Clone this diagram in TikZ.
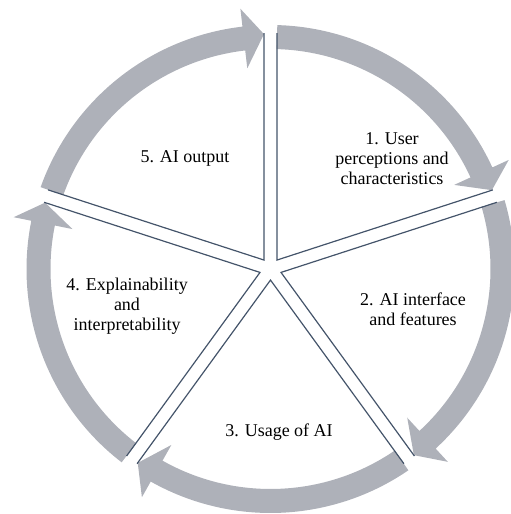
\documentclass[tikz,border=0pt]{standalone}
\usepackage{fontspec}
\setmainfont{LiberationSerif}[Extension=.ttf, UprightFont=*-Regular, BoldFont=*-Bold]
\usetikzlibrary{calc}

\definecolor{ringgray}{RGB}{174,177,185}
\definecolor{edgeblue}{RGB}{68,84,106}

\begin{document}
\begin{tikzpicture}[x=1pt, y=1pt,
    ring/.style={fill=ringgray, draw=none},
    edge/.style={draw=edgeblue, line width=1.2pt, line join=miter},
    stagetext/.style={align=center, font=\rmfamily\fontsize{18}{20}\selectfont, text=black}
]
    \useasboundingbox (0,0) rectangle (511,514);
    \coordinate (c) at (270.5,245);

    % Ring arrows (clockwise)
    \foreach \k in {0,...,4} {
        \pgfmathsetmacro{\a}{90-72*\k-1.6}
        \pgfmathsetmacro{\b}{90-72*(\k+1)+1.6}
        \pgfmathsetmacro{\h}{\b+5}
        \path[ring] ($(c)+(\a:220)$) -- ($(c)+(\a:244)$)
            arc[start angle=\a, end angle=\h, radius=244]
            -- ($(c)+(\h:262)$) -- ($(c)+(\b:235)$) -- ($(c)+(\h:202)$)
            -- ($(c)+(\h:220)$)
            arc[start angle=\h, end angle=\a, radius=220] -- cycle;
    }

    % Sector edges
    \foreach \k in {0,...,4} {
        \pgfmathsetmacro{\a}{90-72*\k}
        \draw[edge] ($(c)+(\a-1.58:236)$) -- ($(c)+(\a-36:11.06)$)
            -- ($(c)+(\a-70.42:236)$);
    }

    % Stage labels
    \node[stagetext] (s1) at (392,355) {1. User\\perceptions and\\characteristics};
    \node[stagetext] (s2) at (413,205) {2. AI interface\\and features};
    \node[stagetext] (s3) at (279,82) {3. Usage of AI};
    \node[stagetext] (s4) at (127,208) {4. Explainability\\and\\interpretability};
    \node[stagetext] (s5) at (185,356) {5. AI output};
\end{tikzpicture}
\end{document}
